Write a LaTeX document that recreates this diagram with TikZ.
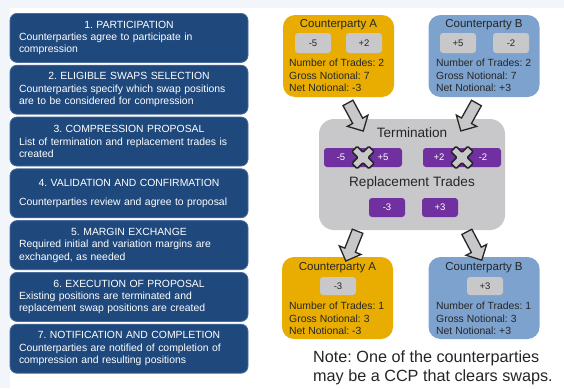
\documentclass[tikz,border=0pt]{standalone}
\usepackage{fontspec}
\setmainfont{Liberation Sans}
\usetikzlibrary{positioning,calc,shapes.arrows}

\definecolor{stepblue}{HTML}{1F497D}
\definecolor{stepline}{HTML}{4A6C9B}
\definecolor{partyA}{HTML}{E8AD00}
\definecolor{partyB}{HTML}{7DA2CE}
\definecolor{tradegray}{HTML}{C8C8CA}
\definecolor{tradepurple}{HTML}{7030A0}
\definecolor{inkdark}{HTML}{262626}
\definecolor{pagetint}{HTML}{F2F5F9}

\tikzset{
  crossmark/.pic={
    \draw[draw=inkdark, line width=1.5pt, fill=tradegray, rounded corners=1pt]
      (-3.7,-12) -- (3.7,-12) -- (3.7,-3.7) -- (12,-3.7) -- (12,3.7) -- (3.7,3.7)
      -- (3.7,12) -- (-3.7,12) -- (-3.7,3.7) -- (-12,3.7) -- (-12,-3.7) -- (-3.7,-3.7) -- cycle;
  }
}

\begin{document}
\frenchspacing
\begin{tikzpicture}[x=1pt, y=-1pt,
  stepbox/.style={draw=stepline, line width=0.8pt, fill=stepblue, rounded corners=7pt, text=white, minimum width=238pt, minimum height=49pt, text width=220pt, inner xsep=9pt, inner ysep=2pt, align=left, font=\fontsize{10.4}{12.4}\selectfont, anchor=north},
  party/.style={rounded corners=12pt, minimum width=111pt, minimum height=82pt, inner sep=0pt},
  partytitle/.style={text=inkdark, font=\fontsize{11.5}{13}\selectfont, inner sep=0pt},
  partystats/.style={text=inkdark, font=\fontsize{10.4}{12.5}\selectfont, align=left, anchor=west, inner sep=0pt},
  trade/.style={fill=tradegray, rounded corners=3pt, minimum width=36pt, minimum height=20pt, inner sep=0pt, text=inkdark, font=\fontsize{9.5}{11}\selectfont},
  swap/.style={fill=tradepurple, rounded corners=3pt, minimum height=19pt, inner sep=0pt, text=white, font=\fontsize{9.5}{11}\selectfont},
  swaptext/.style={text=white, inner sep=0pt, font=\fontsize{9.5}{11}\selectfont},
  heading/.style={text=inkdark, font=\fontsize{13.6}{16}\selectfont, inner sep=0pt},
  bigarrow/.style={single arrow, draw=inkdark, line width=1.3pt, fill=tradegray, minimum height=32pt, minimum width=22pt, single arrow head extend=6pt, inner sep=5pt, sloped, allow upside down},
  note/.style={text=inkdark, font=\fontsize{16.2}{19}\selectfont, align=left, inner sep=0pt}]

% page
\useasboundingbox (0,0) rectangle (564,388);
\fill[pagetint] (0,0) rectangle (564,388);
\fill[white] (10,8) rectangle (564,388);

% compression steps
\foreach \i/\gap/\ttl/\dsc in {
  1/0pt/{1. PARTICIPATION}/{Counterparties agree to participate in\\compression},
  2/0pt/{2. ELIGIBLE SWAPS SELECTION}/{Counterparties specify which swap positions\\are to be considered for compression},
  3/0pt/{3. COMPRESSION PROPOSAL}/{List of termination and replacement trades is\\created},
  4/6pt/{4. VALIDATION AND CONFIRMATION}/{Counterparties review and agree to proposal},
  5/0pt/{5. MARGIN EXCHANGE}/{Required initial and variation margins are\\exchanged, as needed},
  6/0pt/{6. EXECUTION OF PROPOSAL}/{Existing positions are terminated and\\replacement swap positions are created},
  7/0pt/{7. NOTIFICATION AND COMPLETION}/{Counterparties are notified of completion of\\compression and resulting positions}}
  \node[stepbox] (s\i) at (129,{13+51.8*(\i-1)}) {\leavevmode\hbox to\hsize{\hfil\ttl\hfil}\\[\gap]\dsc};

% before compression
\node[party, fill=partyA] (cpA) at (338.5,56) {};
\node[partytitle] (cpAt) at (338.5,25) {Counterparty A};
\node[trade] (a1) at (313,43) {-5};
\node[trade] (a2) at (364,43) {+2};
\node[partystats] (cpAs) at (289,75.5) {Number of Trades: 2\\Gross Notional: 7\\Net Notional: -3};

\node[party, fill=partyB] (cpB) at (484,56) {};
\node[partytitle] (cpBt) at (484,25) {Counterparty B};
\node[trade] (b1) at (458,43) {+5};
\node[trade] (b2) at (511,43) {-2};
\node[partystats] (cpBs) at (436,75.5) {Number of Trades: 2\\Gross Notional: 7\\Net Notional: +3};

% compression
\node[party, fill=tradegray, rounded corners=15pt, minimum width=186pt, minimum height=111pt] (term) at (412,174.5) {};
\node[heading] (termt) at (412,133) {Termination};
\node[swap, minimum width=78pt] (t1) at (363,157.5) {};
\node[swap, minimum width=78pt] (t2) at (462,157.5) {};
\node[swaptext] (t1a) at (341,157.5) {-5};
\node[swaptext] (t1b) at (383,157.5) {+5};
\node[swaptext] (t2a) at (439,157.5) {+2};
\node[swaptext] (t2b) at (483,157.5) {-2};
\pic[rotate=45] at (t1) {crossmark};
\pic[rotate=45] at (t2) {crossmark};
\node[heading] (replt) at (412,183) {Replacement Trades};
\node[swap, minimum width=36pt] (r1) at (387,207.5) {-3};
\node[swap, minimum width=36pt] (r2) at (440,207.5) {+3};

% after compression
\node[party, fill=partyA] (cpA2) at (337.5,298) {};
\node[partytitle] (cpA2t) at (337.5,268) {Counterparty A};
\node[trade, minimum height=18pt] (a3) at (338,286) {-3};
\node[partystats] (cpA2s) at (289,318.5) {Number of Trades: 1\\Gross Notional: 3\\Net Notional: -3};

\node[party, fill=partyB] (cpB2) at (484,298) {};
\node[partytitle] (cpB2t) at (484,268) {Counterparty B};
\node[trade, minimum height=18pt] (b3) at (485,286) {+3};
\node[partystats] (cpB2s) at (436,318.5) {Number of Trades: 1\\Gross Notional: 3\\Net Notional: +3};

% block arrows
\path ($(cpA.south)+(8,3)$) -- node[bigarrow] (arA) {} ($(term.north)+(-50,10)$);
\path ($(cpB.south)+(-6,3)$) -- node[bigarrow] (arB) {} ($(term.north)+(50,10)$);
\path ($(term.south)+(-54,0)$) -- node[bigarrow] (arA2) {} ($(cpA2.north)+(10,0)$);
\path ($(term.south)+(54,0)$) -- node[bigarrow] (arB2) {} ($(cpB2.north)+(-4,0)$);

\node[note, anchor=west] (note) at (313,367.5) {Note: One of the counterparties\\may be a CCP that clears swaps.};
\end{tikzpicture}
\end{document}
